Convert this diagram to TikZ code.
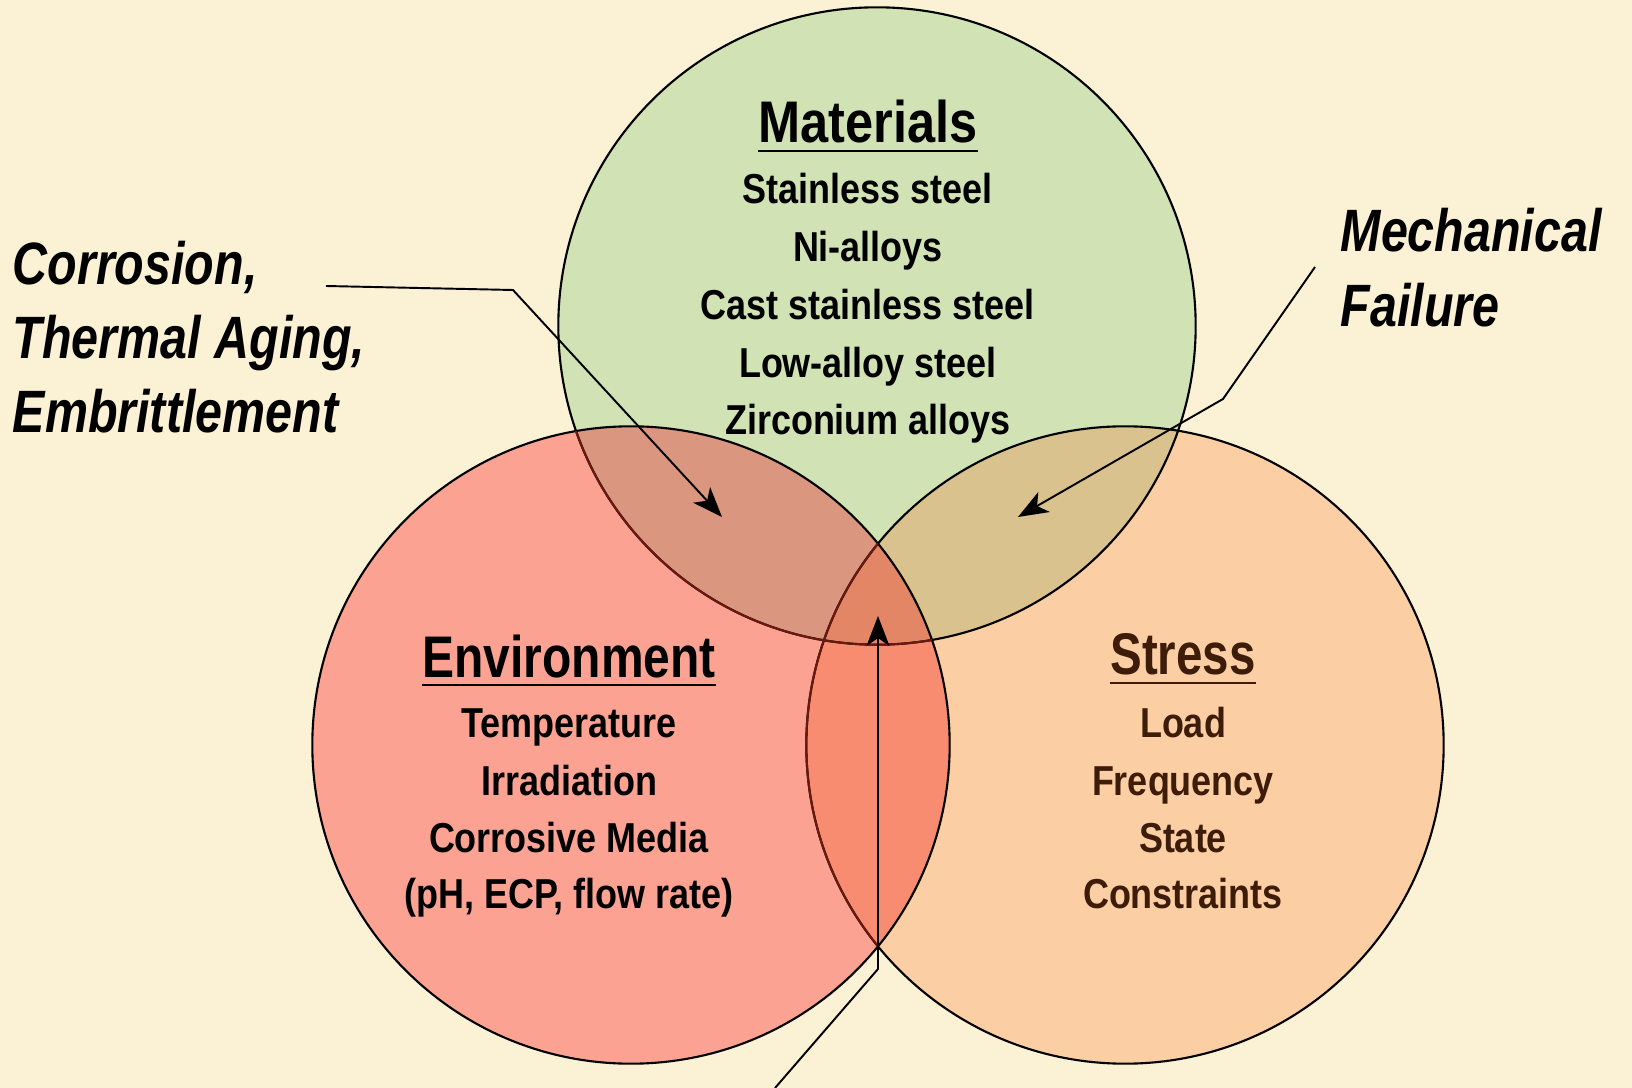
\documentclass[tikz,border=0pt]{standalone}
\usepackage{fontspec}
\setmainfont{Liberation Sans}[FakeStretch=0.86]
\newfontfamily\calloutfont{Liberation Sans}[FakeStretch=0.81]
\usetikzlibrary{arrows.meta}
\usetikzlibrary{positioning}

\definecolor{mbg}{RGB}{251,241,212}
\definecolor{mgreen}{RGB}{209,226,180}
\definecolor{mred}{RGB}{252,162,146}
\definecolor{morange}{RGB}{252,206,163}
\definecolor{ovrg}{RGB}{218,150,126}
\definecolor{ovgo}{RGB}{217,194,142}
\definecolor{ovro}{RGB}{248,140,112}
\definecolor{ovall}{RGB}{226,134,102}
\definecolor{mmaroon}{RGB}{105,25,15}
\definecolor{mbrown}{RGB}{62,28,10}

\newcommand{\vennrad}{3.185cm}

\tikzset{head/.style = {inner sep=0pt, anchor=base,
                        font=\bfseries\fontsize{16.7}{20}\selectfont},
         item/.style = {inner sep=0pt, anchor=base,
                        font=\bfseries\fontsize{11.9}{14}\selectfont},
         callout/.style = {inner sep=0pt, anchor=base west,
                           font=\calloutfont\bfseries\itshape\fontsize{17}{20}\selectfont},
         ring/.style = {line width=0.6pt},
         callarrow/.style = {line width=0.55pt,
                             -{Stealth[length=0.3cm, width=0.23cm, inset=0.08cm]}}}

\begin{document}
\begin{tikzpicture}[x=0.01cm, y=-0.01cm]
    \useasboundingbox (0,0) rectangle (1632,1088);
    \fill[mbg] (0,0) rectangle (1632,1088);

    \coordinate (mat) at (877,326);
    \coordinate (env) at (631,745);
    \coordinate (str) at (1125,745);

    % discs and their overlaps
    \fill[mgreen] (mat) circle (\vennrad);
    \fill[mred] (env) circle (\vennrad);
    \fill[morange] (str) circle (\vennrad);
    \begin{scope}
        \clip (env) circle (\vennrad);
        \fill[ovro] (str) circle (\vennrad);
    \end{scope}
    \begin{scope}
        \clip (mat) circle (\vennrad);
        \fill[ovrg] (env) circle (\vennrad);
        \fill[ovgo] (str) circle (\vennrad);
        \clip (env) circle (\vennrad);
        \fill[ovall] (str) circle (\vennrad);
    \end{scope}

    % outlines
    \draw[ring] (mat) circle (\vennrad);
    \draw[ring] (str) circle (\vennrad);
    \draw[ring] (env) circle (\vennrad);
    \begin{scope}
        \clip (env) circle (\vennrad);
        \draw[ring, mmaroon] (mat) circle (\vennrad);
        \draw[ring, mmaroon] (str) circle (\vennrad);
    \end{scope}

    % materials
    \node[head] (mathead) at (868,143) {Materials};
    \draw[line width=0.8pt] ([yshift=-0.08cm]mathead.base west) -- ([yshift=-0.08cm]mathead.base east);
    \foreach \txt [count=\i from 0] in {Stainless steel, Ni-alloys, Cast stainless steel,
                                        Low-alloy steel, Zirconium alloys}
        \node[item] (mat-\i) at (868, {204 + 57.7*\i}) {\txt};

    % environment
    \node[head, xscale=0.95] (envhead) at (569,677) {Environment};
    \draw[line width=0.8pt] ([yshift=-0.08cm]envhead.base west) -- ([yshift=-0.08cm]envhead.base east);
    \foreach \txt [count=\i from 0] in {Temperature, Irradiation, Corrosive Media,
                                        {(pH, ECP, flow rate)}}
        \node[item] (env-\i) at (569, {738 + 57*\i}) {\txt};

    % stress
    \node[head, mbrown, xscale=0.94] (strhead) at (1183,675) {Stress};
    \draw[line width=0.8pt, mbrown] ([yshift=-0.08cm]strhead.base west) -- ([yshift=-0.08cm]strhead.base east);
    \foreach \txt [count=\i from 0] in {Load, Frequency, State, Constraints}
        \node[item, mbrown] (str-\i) at (1183, {738 + 57*\i}) {\txt};

    % callouts
    \foreach \txt [count=\i from 0] in {{Corrosion,}, {Thermal Aging,}, Embrittlement}
        \node[callout] (corr-\i) at (12, {285 + 74*\i}) {\txt};
    \foreach \txt [count=\i from 0] in {Mechanical, Failure}
        \node[callout] (mech-\i) at (1340, {252 + 75*\i}) {\txt};

    \coordinate (corr-a) at (326,286);
    \coordinate (corr-b) at (513,290);
    \coordinate (corr-c) at (722,517);
    \coordinate (mech-a) at (1315,267);
    \coordinate (mech-b) at (1223,399);
    \coordinate (mech-c) at (1018,517);
    \coordinate (all-a) at (775,1088);
    \coordinate (all-b) at (878,969);
    \coordinate (all-c) at (878,616);

    \draw[callarrow] (corr-a) -- (corr-b) -- (corr-c);
    \draw[callarrow] (mech-a) -- (mech-b) -- (mech-c);
    \draw[callarrow] (all-a) -- (all-b) -- (all-c);
\end{tikzpicture}
\end{document}
